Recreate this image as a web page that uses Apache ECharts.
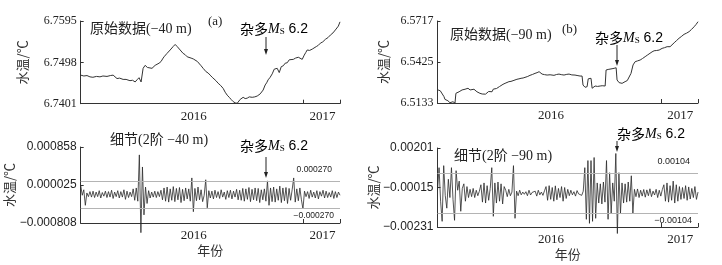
<!DOCTYPE html>
<html>
<head>
<meta charset="utf-8">
<script src="https://cdn.jsdelivr.net/npm/echarts@6/dist/echarts.min.js"></script>
<style>
  html, body { margin: 0; padding: 0; background: #fff; }
  #chart { width: 722px; height: 265px; }
</style>
</head>
<body>
<div id="chart"></div>
<script>
// x is months since 2016-01 (0 .. 14)
const rawAMonths = [0,0.17,0.34,0.5,0.66,0.85,1.04,1.2,1.42,1.6,1.75,1.85,1.96,2.1,2.29,2.45,2.66,2.8,2.94,3.04,3.15,3.26,3.37,3.48,3.6,3.69,3.85,3.95,4.02,4.12,4.23,4.34,4.42,4.5,4.58,4.66,4.75,4.83,4.91,4.99,5.1,5.21,5.29,5.37,5.45,5.53,5.64,5.75,5.85,5.96,6.08,6.18,6.3,6.39,6.5,6.61,6.7,6.77,6.88,6.99,7.1,7.2,7.3,7.42,7.55,7.69,7.8,7.91,8.02,8.12,8.23,8.34,8.45,8.55,8.61,8.7,8.77,8.88,8.99,9.1,9.26,9.4,9.53,9.6,9.69,9.77,9.85,9.96,10.04,10.12,10.23,10.34,10.45,10.53,10.61,10.72,10.83,10.94,11.04,11.15,11.26,11.36,11.48,11.6,11.75,11.85,11.96,12.07,12.15,12.23,12.36,12.5,12.6,12.72,12.83,12.94,13.07,13.21,13.35,13.48,13.62,13.75,13.85,13.91,14];
const rawATemp = [6.7468,6.7466,6.7467,6.7464,6.7463,6.7465,6.7464,6.7466,6.7465,6.7467,6.7468,6.7464,6.7460,6.7461,6.7458,6.7458,6.7455,6.7456,6.7452,6.7457,6.7462,6.7452,6.7484,6.7491,6.7486,6.7482,6.7484,6.7488,6.7491,6.7490,6.7496,6.7500,6.7506,6.7511,6.7513,6.7519,6.7522,6.7527,6.7530,6.7535,6.7540,6.7535,6.7532,6.7527,6.7525,6.7519,6.7516,6.7511,6.7510,6.7508,6.7506,6.7502,6.7500,6.7496,6.7490,6.7484,6.7481,6.7476,6.7473,6.7468,6.7463,6.7459,6.7455,6.7449,6.7444,6.7437,6.7428,6.7421,6.7416,6.7411,6.7406,6.7403,6.7402,6.7404,6.7411,6.7413,6.7416,6.7413,6.7414,6.7417,6.7416,6.7417,6.7419,6.7421,6.7424,6.7428,6.7433,6.7445,6.7450,6.7457,6.7463,6.7471,6.7482,6.7480,6.7484,6.7474,6.7488,6.7490,6.7496,6.7497,6.7504,6.7502,6.7505,6.7508,6.7510,6.7507,6.7505,6.7515,6.7521,6.7527,6.7526,6.7529,6.7531,6.7535,6.7538,6.7543,6.7546,6.7552,6.7556,6.7562,6.7567,6.7574,6.7578,6.7583,6.7593];

const rawBMonths = [0.03,0.15,0.24,0.35,0.4,0.5,0.56,0.67,0.75,0.83,0.94,0.99,1.08,1.16,1.25,1.32,1.4,1.48,1.56,1.64,1.75,1.85,1.96,2.05,2.12,2.2,2.28,2.4,2.5,2.58,2.66,2.75,2.82,2.93,3,3.09,3.17,3.25,3.33,3.41,3.52,3.63,3.72,3.84,3.95,4.06,4.15,4.27,4.38,4.49,4.6,4.7,4.85,4.97,5.1,5.24,5.35,5.46,5.55,5.62,5.75,5.89,6.05,6.26,6.4,6.53,6.65,6.8,6.95,7.07,7.22,7.39,7.5,7.66,7.77,7.82,7.93,8.04,8.1,8.15,8.25,8.31,8.39,8.47,8.6,8.74,8.85,8.95,9.01,9.06,9.17,9.27,9.38,9.49,9.6,9.65,9.76,9.92,10,10.08,10.2,10.3,10.4,10.51,10.62,10.75,10.89,11.02,11.16,11.3,11.42,11.53,11.64,11.78,11.91,12,12.07,12.2,12.34,12.42,12.5,12.6,12.72,12.85,12.98,13.1,13.25,13.38,13.52,13.65,13.79,13.9,14];
const rawBTemp = [6.5226,6.5220,6.5213,6.5178,6.5159,6.5153,6.5149,6.5135,6.5140,6.5142,6.5133,6.5202,6.5208,6.5213,6.5220,6.5226,6.5224,6.5231,6.5229,6.5238,6.5226,6.5229,6.5231,6.5222,6.5213,6.5208,6.5202,6.5197,6.5190,6.5196,6.5202,6.5215,6.5226,6.5213,6.5232,6.5245,6.5236,6.5238,6.5250,6.5261,6.5266,6.5273,6.5279,6.5285,6.5287,6.5292,6.5298,6.5302,6.5305,6.5309,6.5311,6.5316,6.5322,6.5330,6.5336,6.5344,6.5349,6.5356,6.5345,6.5339,6.5335,6.5332,6.5334,6.5330,6.5336,6.5339,6.5335,6.5332,6.5337,6.5339,6.5333,6.5332,6.5329,6.5325,6.5325,6.5261,6.5245,6.5249,6.5305,6.5309,6.5309,6.5238,6.5250,6.5254,6.5251,6.5254,6.5256,6.5259,6.5254,6.5368,6.5372,6.5375,6.5377,6.5380,6.5384,6.5297,6.5278,6.5273,6.5280,6.5285,6.5293,6.5302,6.5344,6.5404,6.5427,6.5433,6.5439,6.5450,6.5463,6.5476,6.5487,6.5497,6.5505,6.5507,6.5510,6.5516,6.5522,6.5527,6.5534,6.5531,6.5534,6.5548,6.5562,6.5578,6.5594,6.5606,6.5622,6.5630,6.5641,6.5657,6.5676,6.5693,6.5712];

// 2nd-order detail, in micro-degrees, one sample every 1/12 month
const detailStep = 1 / 12;
const detailA = [20,-200,-80,-420,-150,-230,
  -120,-240,-110,-250,-130,-230,-100,-260,-140,-220,-110,-250,-120,-240,-90,-270,-130,-230,-100,-260,-120,-240,-80,-290,-110,-250,-130,-230,
  -60,-310,-40,-330,
  685,-1020,420,-630,-20,-380,-100,-260,
  -130,-240,-110,-250,-120,-230,-90,
  -300,-40,-330,-20,-350,-60,-310,-10,-340,-50,-300,-30,-360,-70,-320,-40,-280,-60,-330,
  180,-560,
  -50,-320,-20,-300,-80,-340,-200,
  140,-475,
  -100,-260,-110,-280,-90,-250,-120,-270,-80,-240,-130,-290,-100,-250,-90,-280,-110,-240,-70,-300,-90,
  -310,-50,-330,-60,-290,-30,-340,-70,-300,-40,-320,-50,-360,-80,-300,-60,-330,
  115,-420,
  -40,-340,-20,-350,-60,-310,0,-360,-40,-320,-30,-380,-50,-310,-80,
  180,
  -350,-60,-320,-40,-300,
  -500,
  -110,-230,-120,-270,-90,-240,-130,-260,-100,-280,-120,-220,-90,-260,-110,-250,-140,-240,-100,-270,-120,-250,-130,-200];
const detailB = [-300,935,-900,-2000,1045,-600,-1280,300,-700,935,-800,-1945,770,-300,200,-1450,-200,50,-900,-100,-700,
  -250,-650,-200,-700,-300,-600,-350,
  0,-950,100,-1000,-50,-850,-200,
  935,-1725,
  100,-1000,150,-900,50,-1050,-100,
  -300,-650,-250,-600,-400,
  1045,-1835,
  -350,-600,-300,-550,-400,-520,-380,-600,-300,-560,-420,-500,-350,-620,-300,-550,-400,-580,-330,
  -100,-850,-50,-800,-150,-900,-60,-820,-200,-700,-100,-900,-150,-750,-250,
  -600,-300,-550,-380,-620,-320,-500,-400,-580,-350,
  935,-1890,1323,-2110,1323,-2000,1490,-1835,
  100,-1000,50,-1050,150,-950,
  1323,-1890,660,-1560,100,-900,1710,-2665,660,-1560,
  100,-1000,50,-950,150,-900,
  490,-1560,
  -250,-650,-230,-700,-300,-620,-260,-680,-280,-600,-220,-650,-350,-560,-250,-700,-300,-620,-260,
  0,-900,100,-950,-50,-850,200,-1000,0,-900,
  -100,-800,-150,-750,-50,-850,-120,-780,-200,-700,-100,-800,-400];

// axis ticks (min, mid, max)
const yTicksA = [6.7401, 6.7498, 6.7595];
const yTicksB = [6.5133, 6.5425, 6.5717];
const yTicksDA = [-0.000808, 0.000025, 0.000858];
const yTicksDB = [-0.00231, -0.00015, 0.00201];
const yearLabels = ['2016', '2017'];
const yearLabelPos = [6.1, 13.05];
const yearTickPos = [12, 14];

// threshold lines as drawn, and their printed labels
const thrA = [0.000113, -0.000479];
const thrALabels = ['0.000270', '−0.000270'];
const thrB = [0.000625, -0.001535];
const thrBLabels = ['0.00104', '−0.00104'];

const serif = '"Liberation Serif", "Noto Sans CJK SC", serif';
const sans = '"Liberation Sans", "Noto Sans CJK SC", sans-serif';
const cjk = '"Noto Sans CJK SC", sans-serif';

function xAx(gi, withName) {
  return {
    type: 'value', gridIndex: gi, min: 0, max: 14,
    axisLine: { show: true, onZero: false, lineStyle: { color: '#333', width: 1 } },
    axisTick: { show: true, inside: true, length: 4, customValues: yearTickPos, lineStyle: { color: '#333' } },
    axisLabel: {
      customValues: yearLabelPos, margin: 6,
      formatter: v => yearLabels[v < 12 ? 0 : 1],
      fontFamily: serif, fontSize: 13, color: '#222'
    },
    splitLine: { show: false },
    name: withName ? '年份' : '', nameLocation: 'middle', nameGap: 21,
    nameTextStyle: { fontFamily: cjk, fontSize: 13, color: '#333' }
  };
}
function yAx(gi, ticks, digits, font, gap) {
  return {
    type: 'value', gridIndex: gi, min: ticks[0], max: ticks[2],
    axisLine: { show: true, onZero: false, lineStyle: { color: '#333', width: 1 } },
    axisTick: { show: true, inside: true, length: 3, customValues: ticks, lineStyle: { color: '#333' } },
    axisLabel: {
      customValues: ticks, margin: 4,
      formatter: v => v.toFixed(digits).replace('-', '−'),
      fontFamily: font, fontSize: 12, color: '#222'
    },
    splitLine: { show: false },
    name: '水温/℃', nameLocation: 'middle', nameGap: gap, nameRotate: 90,
    nameTextStyle: { fontFamily: cjk, fontSize: 13, color: '#333' }
  };
}
function thrLine(vals, labels, fs) {
  return {
    silent: true, symbol: 'none', precision: 10,
    lineStyle: { color: '#b4b4b4', width: 1.2, type: 'solid' },
    label: { fontFamily: sans, fontSize: fs, color: '#222' },
    data: [
      { yAxis: vals[0], label: { position: 'insideEndTop', formatter: labels[0], distance: [8, 7] } },
      { yAxis: vals[1], label: { position: 'insideEndBottom', formatter: labels[1], distance: [6, 3] } }
    ]
  };
}

const msRich = {
  c: { fontFamily: cjk, fontSize: 14, color: '#222' },
  m: { fontFamily: serif, fontStyle: 'italic', fontSize: 14, color: '#222' },
  s: { fontFamily: serif, fontSize: 9, color: '#222', verticalAlign: 'bottom', padding: [6, 0, 0, 0] },
  n: { fontFamily: sans, fontSize: 14, color: '#222' }
};
function txt(x, y, s) {
  return { type: 'text', x: x, y: y, style: { text: s, font: '14px ' + serif, fill: '#222', verticalAlign: 'middle' } };
}
function msText(x, y) {
  return { type: 'text', x: x, y: y, style: { text: '{c|杂多}{m|M}{s|S}{n| 6.2}', rich: msRich, verticalAlign: 'middle' } };
}
function arrow(x, y1, y2) {
  return [
    { type: 'line', shape: { x1: x, y1: y1, x2: x, y2: y2 - 3 }, style: { stroke: '#222', lineWidth: 1 } },
    { type: 'polygon', shape: { points: [[x - 2, y2 - 6], [x + 2, y2 - 6], [x, y2]] }, style: { fill: '#222' } }
  ];
}

const chart = echarts.init(document.getElementById('chart'));
chart.setOption({
  animation: false,
  grid: [
    { left: 80.7, top: 21, width: 259.3, height: 82.7 },
    { left: 437.5, top: 21, width: 260.5, height: 82 },
    { left: 80.7, top: 147, width: 259.3, height: 76 },
    { left: 437.5, top: 148, width: 260.5, height: 79 }
  ],
  xAxis: [xAx(0, false), xAx(1, false), xAx(2, true), xAx(3, true)],
  yAxis: [
    yAx(0, yTicksA, 4, serif, 52),
    yAx(1, yTicksB, 4, serif, 48),
    yAx(2, yTicksDA, 6, sans, 59),
    yAx(3, yTicksDB, 5, sans, 55)
  ],
  series: [
    { type: 'line', xAxisIndex: 0, yAxisIndex: 0, showSymbol: false, clip: false,
      lineStyle: { color: '#333', width: 1 }, data: rawAMonths.map((m, i) => [m, rawATemp[i]]) },
    { type: 'line', xAxisIndex: 1, yAxisIndex: 1, showSymbol: false, clip: false,
      lineStyle: { color: '#333', width: 1 }, data: rawBMonths.map((m, i) => [m, rawBTemp[i]]) },
    { type: 'line', xAxisIndex: 2, yAxisIndex: 2, showSymbol: false, clip: false,
      lineStyle: { color: '#2a2a2a', width: 0.8 }, data: detailA.map((u, i) => [i * detailStep, u * 1e-6]),
      markLine: thrLine(thrA, thrALabels, 8.5) },
    { type: 'line', xAxisIndex: 3, yAxisIndex: 3, showSymbol: false, clip: false,
      lineStyle: { color: '#2a2a2a', width: 0.8 }, data: detailB.map((u, i) => [i * detailStep, u * 1e-6]),
      markLine: thrLine(thrB, thrBLabels, 9) }
  ],
  graphic: [
    txt(90, 29, '原始数据(−40 m)'),
    { type: 'text', x: 208, y: 22, style: { text: '(a)', font: '13px ' + serif, fill: '#222', verticalAlign: 'middle' } },
    msText(240, 29),
    ...arrow(266, 37, 55),
    txt(450, 35, '原始数据(−90 m)'),
    { type: 'text', x: 562, y: 30, style: { text: '(b)', font: '13px ' + serif, fill: '#222', verticalAlign: 'middle' } },
    msText(595, 38),
    ...arrow(617, 45, 66),
    txt(110, 140, '细节(2阶 −40 m)'),
    msText(240, 146),
    ...arrow(266, 157, 178),
    txt(454, 156, '细节(2阶 −90 m)'),
    msText(617, 134),
    ...arrow(617, 141, 152)
  ]
});
</script>
</body>
</html>
